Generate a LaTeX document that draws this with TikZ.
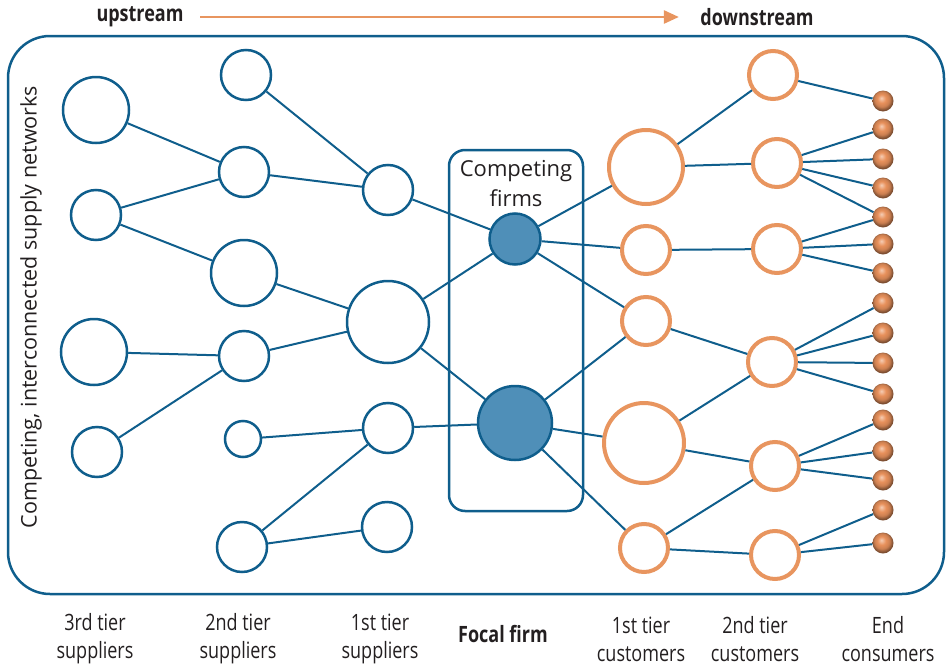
\documentclass[tikz,border=0pt]{standalone}
\usepackage{fontspec}
\setmainfont{Open Sans}
\newfontfamily\narrowfont[FakeStretch=0.8]{Open Sans}
\usetikzlibrary{arrows.meta,shadings}
\definecolor{netblue}{HTML}{0F5E8C}
\definecolor{firmblue}{HTML}{4F8FB8}
\definecolor{custorange}{HTML}{E8955F}
\definecolor{ballorange}{HTML}{E8915C}
\definecolor{textdark}{HTML}{231F20}
\pgfdeclareradialshading{consball}{\pgfqpoint{-4bp}{7bp}}{%
  color(0bp)=(ballorange!45!white); color(10bp)=(ballorange);
  color(18bp)=(ballorange!88!black); color(25bp)=(ballorange!55!black);
  color(50bp)=(ballorange!40!black)}

\begin{document}
\begin{tikzpicture}[
    x=1pt, y=-1pt,
    sup/.style={circle, draw=netblue, line width=2.5pt, inner sep=0pt, minimum size=#1},
    sup/.default=50pt,
    firm/.style={circle, draw=netblue, fill=firmblue, line width=2.5pt, inner sep=0pt, minimum size=#1},
    cust/.style={circle, draw=custorange, line width=4pt, inner sep=0pt, minimum size=#1},
    cust/.default=48pt,
    cons/.style={circle, inner sep=0pt, minimum size=21pt, shading=consball},
    link/.style={draw=netblue, line width=2pt},
    tierlbl/.style={font=\narrowfont\fontsize{22.5}{28}\selectfont, color=textdark, align=center},
    dirlbl/.style={font=\narrowfont\bfseries\fontsize{22.5}{25}\selectfont, color=textdark},
    flow/.style={draw=custorange, line width=2.5pt, -{Triangle[length=15pt,width=13pt]}}
]
  \useasboundingbox (0,0) rectangle (946,667);

  % direction
  \node[dirlbl] (up) at (140,17) {upstream};
  \node[dirlbl] (down) at (757,17) {downstream};
  \draw[flow] ([xshift=13pt]up.east) -- ([xshift=-18pt]down.west);

  % outer frame and focal box
  \draw[netblue, line width=2.5pt, rounded corners=42pt] (8,36) rectangle (944,594);
  \draw[netblue, line width=2.5pt, rounded corners=16pt] (449,150) rectangle (583,511);
  \node[rotate=90, font=\fontsize{21.5}{24}\selectfont, color=textdark] (netlbl) at (31,307) {Competing, interconnected supply networks};
  \node[font=\fontsize{22}{30}\selectfont, color=textdark, align=center] (firmlbl) at (516,184) {Competing\\firms};

  % 3rd tier suppliers
  \node[sup=66pt] (s3a) at (96,110) {};
  \node[sup] (s3b) at (96,215) {};
  \node[sup=66pt] (s3c) at (94,352) {};
  \node[sup] (s3d) at (97,452) {};
  % 2nd tier suppliers
  \node[sup] (s2a) at (246,75) {};
  \node[sup] (s2b) at (244,172) {};
  \node[sup=66pt] (s2c) at (244,273) {};
  \node[sup] (s2d) at (244,356) {};
  \node[sup=36pt] (s2e) at (243,439) {};
  \node[sup] (s2f) at (242,547) {};
  % 1st tier suppliers
  \node[sup] (s1a) at (388,190) {};
  \node[sup=82pt] (s1b) at (388,322) {};
  \node[sup] (s1c) at (388,428) {};
  \node[sup] (s1d) at (387,527) {};
  % focal firms
  \node[firm=51pt] (fa) at (515,239) {};
  \node[firm=74pt] (fb) at (515,423) {};
  % 1st tier customers
  \node[cust=74pt] (c1a) at (646,167) {};
  \node[cust] (c1b) at (646,250) {};
  \node[cust] (c1c) at (646,321) {};
  \node[cust=80pt] (c1d) at (644,443) {};
  \node[cust] (c1e) at (644,548) {};
  % 2nd tier customers
  \node[cust] (c2a) at (773,75) {};
  \node[cust] (c2b) at (777,163) {};
  \node[cust] (c2c) at (777,249) {};
  \node[cust] (c2d) at (772,362) {};
  \node[cust] (c2e) at (775,466) {};
  \node[cust] (c2f) at (775,555) {};
  % end consumers
  \foreach \i/\yy in {1/101,2/129,3/159,4/188,5/217,6/244,7/273,8/303,9/333,10/363,11/394,12/420,13/451,14/480,15/510,16/543}
    \node[cons] (e\i) at (883,\yy) {};

  % supplier links
  \foreach \a/\b in {s3a/s2b, s3b/s2b, s3b/s2c, s3c/s2d, s3d/s2d,
                     s2a/s1a, s2b/s1a, s2c/s1b, s2d/s1b, s2e/s1c, s2f/s1c, s2f/s1d,
                     s1a/fa, s1b/fa, s1b/fb, s1c/fb}
    \draw[link] (\a) -- (\b);
  % customer links
  \foreach \a/\b in {fa/c1a, fa/c1b, fa/c1c, fb/c1c, fb/c1d, fb/c1e,
                     c1a/c2a, c1a/c2b, c1b/c2c, c1c/c2d, c1d/c2d, c1d/c2e, c1e/c2e, c1e/c2f}
    \draw[link] (\a) -- (\b);
  % consumer links
  \foreach \a/\b in {c2a/e1, c2b/e2, c2b/e3, c2b/e4, c2b/e5, c2c/e5, c2c/e6, c2c/e7,
                     c2d/e8, c2d/e9, c2d/e10, c2d/e11, c2e/e12, c2e/e13, c2e/e14, c2f/e15, c2f/e16}
    \draw[link] (\a) -- (\b);

  % tier labels
  \node[tierlbl] (l1) at (95,639) {3rd tier\\suppliers};
  \node[tierlbl] (l2) at (238,639) {2nd tier\\suppliers};
  \node[tierlbl] (l3) at (380,639) {1st tier\\suppliers};
  \node[tierlbl, font=\narrowfont\bfseries\fontsize{22.5}{28}\selectfont] (l4) at (503,634) {Focal firm};
  \node[tierlbl] (l5) at (641,639) {1st tier\\customers};
  \node[tierlbl] (l6) at (755,639) {2nd tier\\customers};
  \node[tierlbl] (l7) at (888,639) {End\\consumers};
\end{tikzpicture}
\end{document}
